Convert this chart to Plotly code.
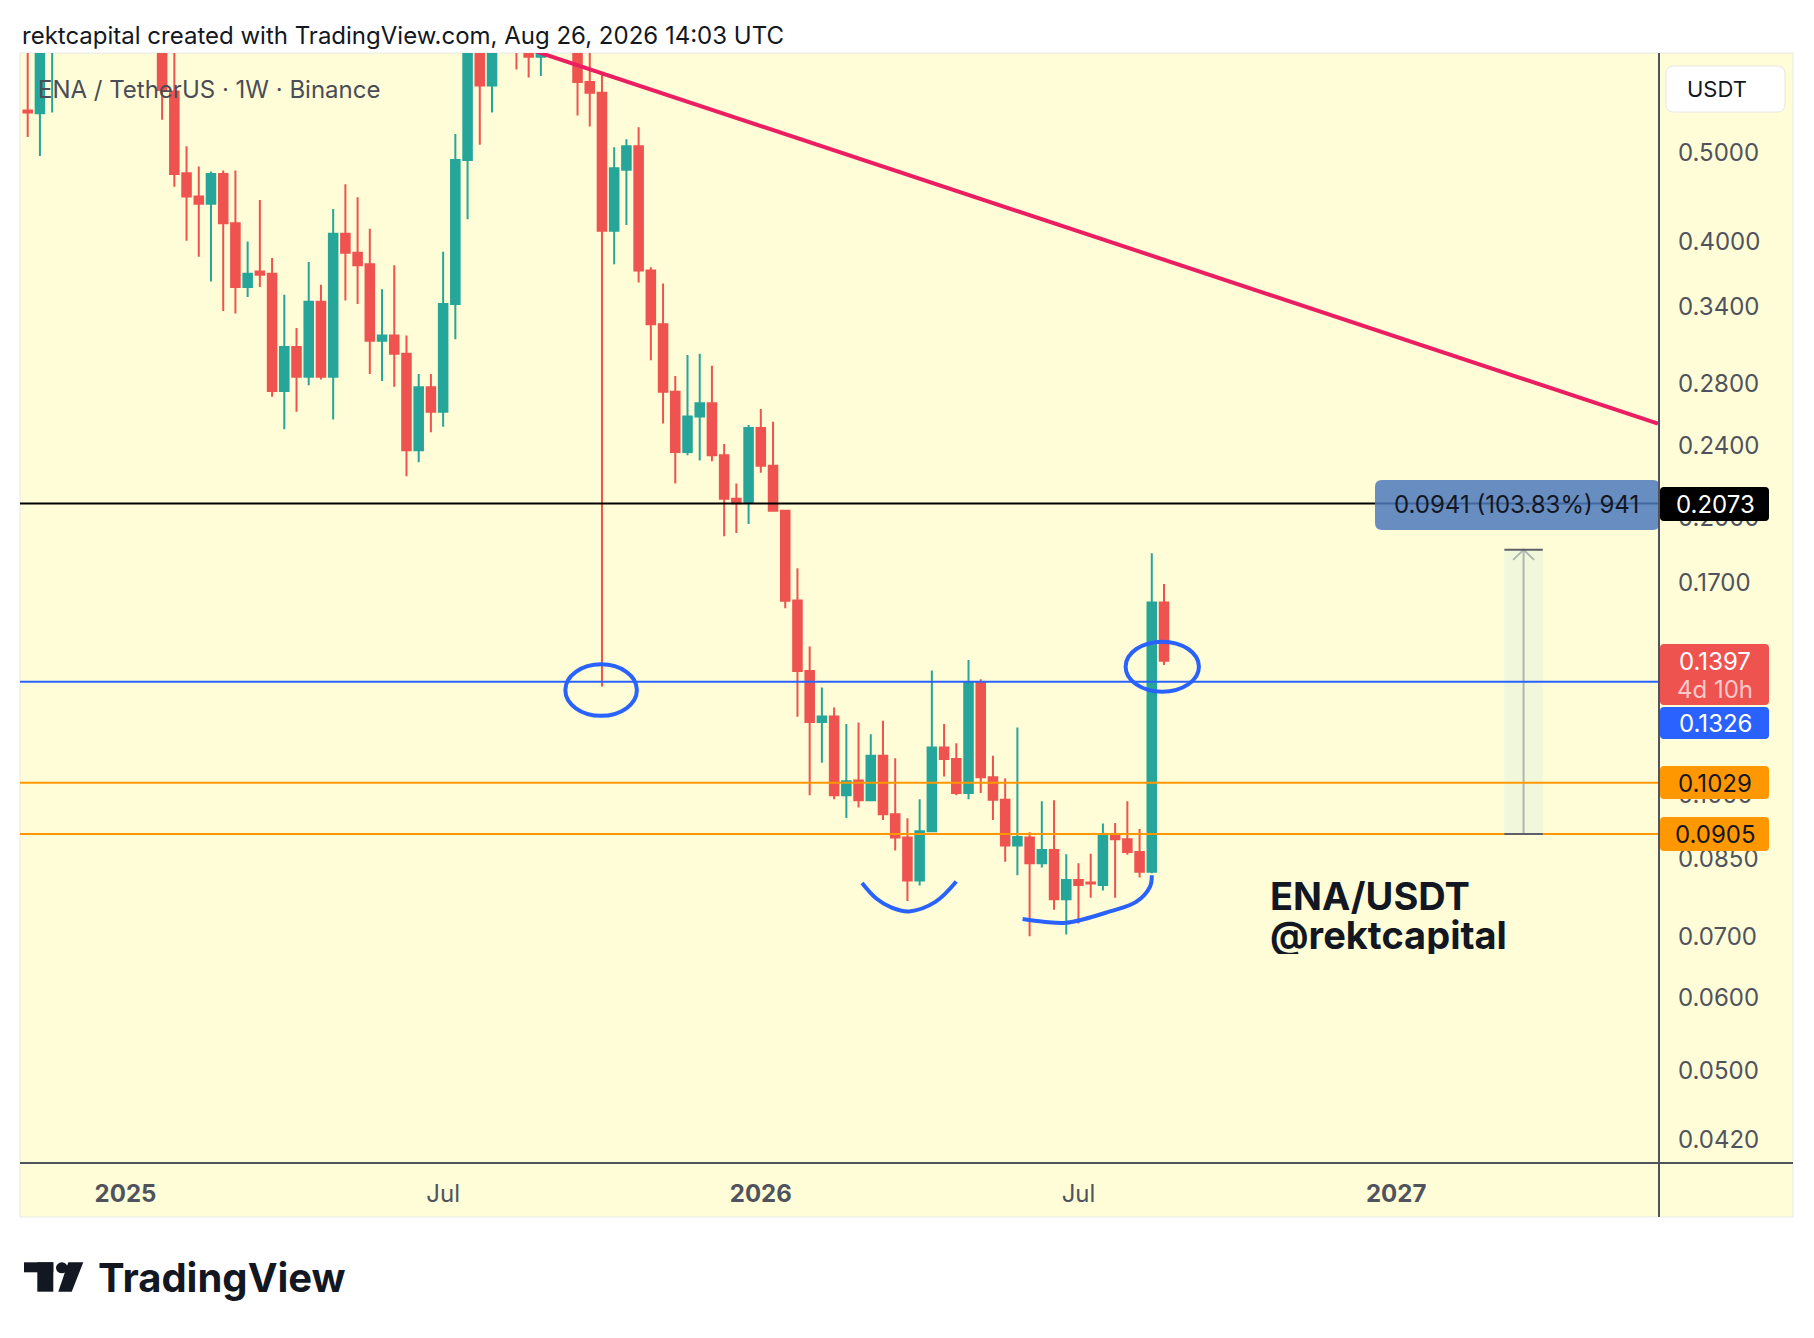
import math
import pandas as pd
import plotly.graph_objects as go

# ---- values ---------------------------------------------------------------
# weekly candles, ENA/USDT (Binance), first bar 2024-11-11
dates = pd.date_range("2024-11-11", periods=94, freq="W-MON")

opens = [
    0.556, 0.552, 0.72, 0.88, 1.08, 1.10, 0.95, 1.05, 0.88, 0.78,
    0.88, 0.72, 0.583, 0.475, 0.448, 0.440, 0.474, 0.419, 0.357, 0.371,
    0.369, 0.275, 0.307, 0.285, 0.344, 0.285, 0.408, 0.389, 0.378, 0.312,
    0.316, 0.302, 0.237, 0.2775, 0.261, 0.342, 0.491, 0.66, 0.592, 0.70,
    0.76, 0.68, 0.636, 0.66, 0.72, 0.66, 0.597, 0.581, 0.411, 0.479,
    0.508, 0.372, 0.325, 0.2745, 0.236, 0.258, 0.2666, 0.234, 0.2098, 0.2077,
    0.2506, 0.228, 0.2036, 0.1626, 0.1362, 0.1198, 0.1215, 0.0997, 0.1035, 0.0985,
    0.1101, 0.0951, 0.0897, 0.0805, 0.0911, 0.1124, 0.1092, 0.1003, 0.1323, 0.1043,
    0.0986, 0.0879, 0.0897, 0.0841, 0.0869, 0.0768, 0.0806, 0.0801, 0.0796, 0.0905,
    0.0893, 0.0865, 0.0823, 0.1617,
]
highs = [
    0.66, 0.78, 0.92, 1.15, 1.25, 1.30, 1.12, 1.10, 0.99, 0.95,
    0.96, 0.75, 0.66, 0.508, 0.483, 0.477, 0.478, 0.478, 0.400, 0.444,
    0.384, 0.350, 0.322, 0.380, 0.359, 0.434, 0.462, 0.447, 0.413, 0.355,
    0.377, 0.316, 0.287, 0.287, 0.390, 0.524, 0.72, 0.70, 0.75, 0.86,
    0.80, 0.72, 0.70, 0.76, 0.74, 0.68, 0.66, 0.610, 0.507, 0.517,
    0.533, 0.375, 0.360, 0.2855, 0.301, 0.302, 0.293, 0.2407, 0.218, 0.2525,
    0.2628, 0.2545, 0.2036, 0.1762, 0.1448, 0.1307, 0.1243, 0.1192, 0.1197, 0.1162,
    0.1202, 0.1094, 0.0941, 0.0987, 0.1364, 0.1192, 0.1136, 0.1400, 0.1334, 0.1101,
    0.1040, 0.1182, 0.0909, 0.0982, 0.0985, 0.0860, 0.0841, 0.0861, 0.0929, 0.0930,
    0.0982, 0.0916, 0.1830, 0.1694,
]
lows = [
    0.520, 0.496, 0.553, 0.80, 0.95, 0.85, 0.88, 0.85, 0.72, 0.70,
    0.68, 0.543, 0.459, 0.401, 0.385, 0.362, 0.336, 0.334, 0.348, 0.357,
    0.271, 0.2498, 0.261, 0.279, 0.283, 0.256, 0.345, 0.342, 0.287, 0.282,
    0.278, 0.222, 0.230, 0.248, 0.2514, 0.313, 0.423, 0.510, 0.553, 0.66,
    0.616, 0.604, 0.606, 0.65, 0.645, 0.549, 0.534, 0.131, 0.378, 0.417,
    0.361, 0.297, 0.2535, 0.218, 0.234, 0.231, 0.2305, 0.191, 0.1926, 0.197,
    0.224, 0.2034, 0.1594, 0.1214, 0.0997, 0.1082, 0.0987, 0.0942, 0.0967, 0.0985,
    0.0937, 0.0868, 0.0765, 0.0795, 0.0910, 0.1045, 0.0997, 0.0987, 0.1003, 0.0937,
    0.0844, 0.0816, 0.0700, 0.0832, 0.0748, 0.0703, 0.0723, 0.0771, 0.0785, 0.0771,
    0.0859, 0.0811, 0.0820, 0.1383,
]
closes = [
    0.553, 0.72, 0.88, 1.08, 1.10, 0.95, 1.05, 0.88, 0.78, 0.88,
    0.72, 0.585, 0.474, 0.448, 0.440, 0.474, 0.419, 0.357, 0.369, 0.368,
    0.275, 0.307, 0.285, 0.344, 0.285, 0.408, 0.389, 0.377, 0.312, 0.316,
    0.302, 0.237, 0.2775, 0.261, 0.342, 0.491, 0.66, 0.592, 0.70, 0.76,
    0.68, 0.636, 0.66, 0.72, 0.66, 0.597, 0.581, 0.411, 0.481, 0.508,
    0.372, 0.325, 0.2745, 0.236, 0.258, 0.2666, 0.234, 0.2098, 0.2075, 0.2506,
    0.228, 0.2036, 0.1624, 0.1362, 0.1198, 0.1215, 0.0997, 0.1033, 0.0985, 0.1101,
    0.0951, 0.0897, 0.0805, 0.0911, 0.1124, 0.1092, 0.1003, 0.1323, 0.1043, 0.0986,
    0.0879, 0.0898, 0.0841, 0.0869, 0.0768, 0.0806, 0.0796, 0.0799, 0.0905, 0.0893,
    0.0865, 0.0823, 0.1617, 0.1397,
]

# horizontal levels drawn on the chart
levels = [0.2073, 0.1326, 0.1029, 0.0905]
level_colors = ["#000000", "#2962FF", "#FF9800", "#FF9800"]

# descending trendline (two anchor points)
trend_dates = ["2025-08-14", "2027-06-03"]
trend_prices = [0.659, 0.2534]

# price-range measurement
measure_low, measure_high = 0.0905, 0.1846
measure_dates = ["2027-03-07", "2027-03-18", "2027-03-29"]
measure_text = "0.0941 (103.83%) 941"

# hand drawn marks
spike_circle = (["2025-09-15", "2025-10-26"], [0.1217, 0.1385])
last_circle = (["2026-08-02", "2026-09-13"], [0.1293, 0.1466])
smile1_dates = ["2026-03-04", "2026-03-12", "2026-03-21", "2026-03-31", "2026-04-15", "2026-04-27"]
smile1_prices = [0.0800, 0.0770, 0.0752, 0.0745, 0.0763, 0.0803]
smile2_dates = ["2026-06-04", "2026-06-16", "2026-06-29", "2026-07-24", "2026-08-08", "2026-08-16", "2026-08-17"]
smile2_prices = [0.0731, 0.0726, 0.0724, 0.0745, 0.0763, 0.0793, 0.0816]

# axes
y_ticks = [0.5, 0.4, 0.34, 0.28, 0.24, 0.2, 0.17, 0.14, 0.12, 0.1, 0.085, 0.07, 0.06, 0.05, 0.042]
x_tickvals = ["2025-01-06", "2025-07-07", "2026-01-05", "2026-07-06", "2027-01-04"]
x_ticktext = ["<b>2025</b>", "Jul", "<b>2026</b>", "Jul", "<b>2027</b>"]
x_range = ["2024-11-06 14:00", "2027-06-03 14:00"]
y_range = [0.03963, 0.6421]

# ---- styling / layout helpers ---------------------------------------------
W, H = 1814, 1338
PL, PR, PT, PB = 20, 1659, 53, 1163      # plot area in pixels
BG = "#FEFDD7"
GREEN, RED = "#26A69A", "#EF5350"
BLUE = "#2962FF"
INK = "#131722"
GREY = "#50535E"
FONT = "Inter, Roboto, sans-serif"


def fx(px):
    return (px - PL) / (PR - PL)


def fy(py):
    return (PB - py) / (PB - PT)


def rrect(x0, y0, x1, y1, r):
    rx, ry = r / (PR - PL), r / (PB - PT)
    a, c = fx(x0), fx(x1)
    b, d = fy(y1), fy(y0)
    return (f"M{a+rx},{b} L{c-rx},{b} Q{c},{b} {c},{b+ry} L{c},{d-ry} Q{c},{d} {c-rx},{d} "
            f"L{a+rx},{d} Q{a},{d} {a},{d-ry} L{a},{b+ry} Q{a},{b} {a+rx},{b} Z")


fig = go.Figure()

fig.add_trace(go.Candlestick(
    x=dates, open=opens, high=highs, low=lows, close=closes,
    increasing=dict(line=dict(color=GREEN, width=2), fillcolor=GREEN),
    decreasing=dict(line=dict(color=RED, width=2), fillcolor=RED),
    whiskerwidth=0, showlegend=False, hoverinfo="skip",
))

# trendline
fig.add_trace(go.Scatter(x=trend_dates, y=trend_prices, mode="lines",
                         line=dict(color="#EC1E62", width=4), showlegend=False, hoverinfo="skip"))

# smiles under the lows
for xs, ys in [(smile1_dates, smile1_prices), (smile2_dates, smile2_prices)]:
    fig.add_trace(go.Scatter(x=xs, y=ys, mode="lines", line=dict(color=BLUE, width=4, shape="spline"),
                             showlegend=False, hoverinfo="skip"))

shapes = []
# chart panel (extends under the price and time scales)
shapes.append(dict(type="rect", xref="paper", yref="paper", x0=fx(20), x1=fx(1793), y0=fy(1217), y1=fy(53),
                   fillcolor=BG, line=dict(color="#E8E8E8", width=1), layer="below"))

# measurement band
shapes.append(dict(type="rect", xref="x", yref="y", x0=measure_dates[0], x1=measure_dates[2],
                   y0=measure_low, y1=measure_high, fillcolor="rgba(230,243,222,0.6)", line=dict(width=0)))

for lv, col in zip(levels, level_colors):
    shapes.append(dict(type="line", xref="paper", yref="y", x0=0, x1=1, y0=lv, y1=lv,
                       line=dict(color=col, width=2)))

# measurement caps
for lv in (measure_low, measure_high):
    shapes.append(dict(type="line", xref="x", yref="y", x0=measure_dates[0], x1=measure_dates[2],
                       y0=lv, y1=lv, line=dict(color="#5D606B", width=2)))

# measurement label box
shapes.append(dict(type="path", xref="paper", yref="paper", path=rrect(1375, 480, 1660, 530, 7),
                   fillcolor="rgba(78,121,188,0.85)", line=dict(width=0)))

# hand drawn ellipses
for xs, ys in (spike_circle, last_circle):
    shapes.append(dict(type="circle", xref="x", yref="y", x0=xs[0], x1=xs[1], y0=ys[0], y1=ys[1],
                       line=dict(color=BLUE, width=4)))

# scale borders
shapes.append(dict(type="line", xref="paper", yref="paper", x0=fx(1659), x1=fx(1659), y0=fy(1217), y1=fy(53),
                   line=dict(color=GREY, width=2)))
shapes.append(dict(type="line", xref="paper", yref="paper", x0=fx(20), x1=fx(1793), y0=fy(1163), y1=fy(1163),
                   line=dict(color=GREY, width=2)))

# price-scale labels
price_labels = [
    ("0.2073", "#000000", "#FFFFFF", 487, 521),
    ("0.1397", RED, "#FFFFFF", 644, 705),
    ("0.1326", BLUE, "#FFFFFF", 707, 739),
    ("0.1029", "#FF9800", INK, 766, 799),
    ("0.0905", "#FF9800", INK, 817, 851),
]
for txt, bg, fg, top, bot in price_labels:
    shapes.append(dict(type="path", xref="paper", yref="paper", path=rrect(1660, top, 1769, bot, 4),
                       fillcolor=bg, line=dict(width=0)))

# USDT box
shapes.append(dict(type="path", xref="paper", yref="paper", path=rrect(1666, 66, 1785, 112, 8),
                   fillcolor="#FFFFFF", line=dict(color="#E6E6E6", width=1)))

# TradingView logo mark
logo = dict(xref="paper", yref="paper", fillcolor=INK, line=dict(width=0))
shapes.append(dict(type="rect", x0=fx(24), x1=fx(53.3), y0=fy(1272.3), y1=fy(1262.3), **logo))
shapes.append(dict(type="rect", x0=fx(37.3), x1=fx(53.3), y0=fy(1291.7), y1=fy(1262.3), **logo))
shapes.append(dict(type="circle", x0=fx(56), x1=fx(67.7), y0=fy(1273.3), y1=fy(1262.3), **logo))
shapes.append(dict(type="path", path=f"M{fx(68.3)},{fy(1262.3)} L{fx(83.3)},{fy(1262.3)} "
                                     f"L{fx(71.7)},{fy(1291.7)} L{fx(58.3)},{fy(1291.7)} Z", **logo))

# measurement arrow (vertical line + chevron)
fig.add_trace(go.Scatter(x=[measure_dates[1], measure_dates[1]], y=[measure_low, measure_high], mode="lines",
                         line=dict(color="#5D606B", width=2), showlegend=False, hoverinfo="skip"))
fig.add_trace(go.Scatter(x=["2027-03-12", measure_dates[1], "2027-03-24"], y=[0.180, measure_high, 0.180],
                         mode="lines", line=dict(color="#5D606B", width=2), showlegend=False, hoverinfo="skip"))

ann = []


def text(x, y, s, size, color=INK, xanchor="left", height=None):
    a = dict(xref="paper", yref="paper", x=fx(x), y=fy(y), text=s, showarrow=False,
             xanchor=xanchor, yanchor="middle", borderpad=0,
             font=dict(family=FONT, size=size, color=color))
    if height:
        a["height"] = height
    ann.append(a)


text(21, 36, "rektcapital created with TradingView.com, Aug 26, 2026 14:03 UTC", 24)
text(37, 89, "ENA / TetherUS · 1W · Binance", 24, "#4A4D57")
text(1269, 896, "<b>ENA/USDT</b>", 38, height=38)
text(1269, 935, "<b>@rektcapital</b>", 38, height=38)
text(1393, 505, measure_text, 24)
text(1717, 89, "USDT", 22, xanchor="center")
text(97, 1277, "<b>TradingView</b>", 40)
for txt, bg, fg, top, bot in price_labels:
    yc = 660.7 if txt == "0.1397" else (top + bot) / 2
    text(1715, yc, txt, 24, fg, xanchor="center", height=26)
text(1715, 689, "4d 10h", 24, "rgba(255,255,255,0.7)", xanchor="center", height=26)

fig.update_layout(
    width=W, height=H,
    margin=dict(l=PL, r=W - PR, t=PT, b=H - PB, pad=0),
    paper_bgcolor="#FFFFFF", plot_bgcolor=BG,
    font=dict(family=FONT, color=GREY),
    shapes=shapes, annotations=ann,
    boxgap=0.3, boxgroupgap=0,
    xaxis=dict(type="date", range=x_range, tickvals=x_tickvals, ticktext=x_ticktext,
               showgrid=False, zeroline=False, showline=False, ticks="",
               tickfont=dict(size=24, color=GREY), ticklabelstandoff=14,
               rangeslider=dict(visible=False), fixedrange=True),
    yaxis=dict(type="log", range=[math.log10(y_range[0]), math.log10(y_range[1])], side="right",
               tickvals=y_ticks, tickformat=".4f", showgrid=False, zeroline=False, showline=False,
               ticks="", tickfont=dict(size=24, color=GREY), ticklabelstandoff=18, fixedrange=True),
)

fig.write_html("out.html", config={"displayModeBar": False},
               post_script="document.body.style.margin='0';document.body.style.overflow='hidden';")
